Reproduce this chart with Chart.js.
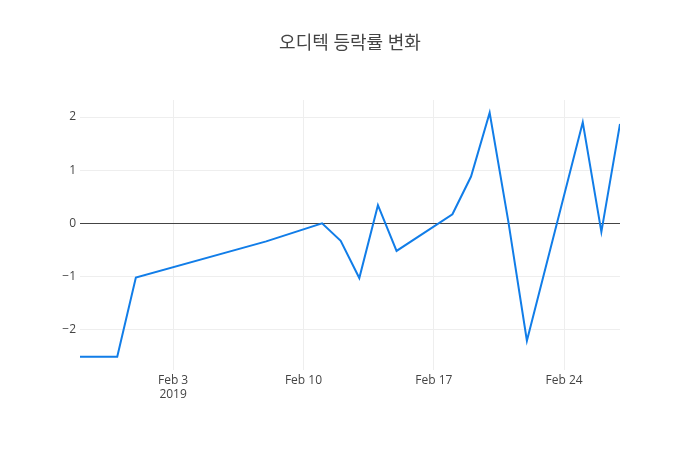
<!DOCTYPE html>
<html>
<head>
<meta charset="utf-8">
<script src="https://cdn.jsdelivr.net/npm/chart.js@4"></script>
<style>
  html, body { margin: 0; padding: 0; background: #fff; }
  #wrap { width: 700px; height: 450px; }
</style>
</head>
<body>
<div id="wrap"><canvas id="miGrafica" width="700" height="450"></canvas></div>
<script>
"use strict";

// datos (fecha de negociacion y cambio en %)
const fechas = ['2019-01-29', '2019-01-30', '2019-01-31', '2019-02-01', '2019-02-08',
  '2019-02-11', '2019-02-12', '2019-02-13', '2019-02-14', '2019-02-15',
  '2019-02-18', '2019-02-19', '2019-02-20', '2019-02-21', '2019-02-22',
  '2019-02-25', '2019-02-26', '2019-02-27'];
const cambios = [-2.51, -2.51, -2.51, -1.02, -0.34,
  0, -0.33, -1.03, 0.34, -0.52,
  0.17, 0.88, 2.08, 0.04, -2.21,
  1.9, -0.16, 1.87];

const fechasTicks = ['2019-02-03', '2019-02-10', '2019-02-17', '2019-02-24'];
const etiquetasTicks = [['Feb 3', '2019'], 'Feb 10', 'Feb 17', 'Feb 24'];
const valoresY = [-2, -1, 0, 1, 2];

const titulo = '오디텍 등락률 변화';

// paso las fechas a numero de dias para usar un eje lineal
function dia(s) {
  const p = s.split('-');
  return Date.UTC(+p[0], +p[1] - 1, +p[2]) / 86400000;
}

const puntos = fechas.map(function (f, i) { return { x: dia(f), y: cambios[i] }; });
const ticksX = fechasTicks.map(dia);

const fuente = '"Open Sans", verdana, arial, "Noto Sans CJK KR", sans-serif';

// titulo dibujado a mano para dejar el area de la grafica donde va
const pluginTitulo = {
  id: 'titulo',
  afterDraw: function (chart) {
    const ctx = chart.ctx;
    ctx.save();
    ctx.font = '18px ' + fuente;
    ctx.fillStyle = '#444';
    ctx.textAlign = 'center';
    ctx.textBaseline = 'middle';
    ctx.fillText(titulo, 350, 44);
    ctx.restore();
  }
};

const ctx = document.getElementById('miGrafica');
const chart = new Chart(ctx, {
  type: 'line',
  data: {
    datasets: [{
      data: puntos,
      borderColor: 'rgb(17,125,232)',
      borderWidth: 2,
      pointRadius: 0,
      tension: 0,
      fill: false
    }]
  },
  options: {
    responsive: false,
    animation: false,
    layout: { padding: { left: 0, top: 100, right: 80, bottom: 0 } },
    plugins: {
      legend: { display: false },
      tooltip: { enabled: false }
    },
    scales: {
      x: {
        type: 'linear',
        min: dia(fechas[0]),
        max: dia(fechas[fechas.length - 1]),
        afterFit: function (s) { s.height = 80; },
        afterBuildTicks: function (s) {
          s.ticks = ticksX.map(function (v) { return { value: v }; });
        },
        border: { display: false },
        grid: { color: '#eee', lineWidth: 1, drawTicks: false },
        ticks: {
          padding: 3,
          color: '#444',
          font: { family: fuente, size: 12 },
          maxRotation: 0,
          autoSkip: false,
          callback: function (v) {
            const i = ticksX.indexOf(v);
            return i >= 0 ? etiquetasTicks[i] : '';
          }
        }
      },
      y: {
        min: -2.76,
        max: 2.32,
        afterFit: function (s) { s.width = 80; },
        afterBuildTicks: function (s) {
          s.ticks = valoresY.map(function (v) { return { value: v }; });
        },
        border: { display: false },
        grid: {
          drawTicks: false,
          lineWidth: 1,
          color: function (c) { return c.tick && c.tick.value === 0 ? '#444' : '#eee'; }
        },
        ticks: {
          padding: 4,
          color: '#444',
          font: { family: fuente, size: 12 },
          callback: function (v) { return v < 0 ? '\u2212' + Math.abs(v) : String(v); }
        }
      }
    }
  },
  plugins: [pluginTitulo]
});
</script>
</body>
</html>
